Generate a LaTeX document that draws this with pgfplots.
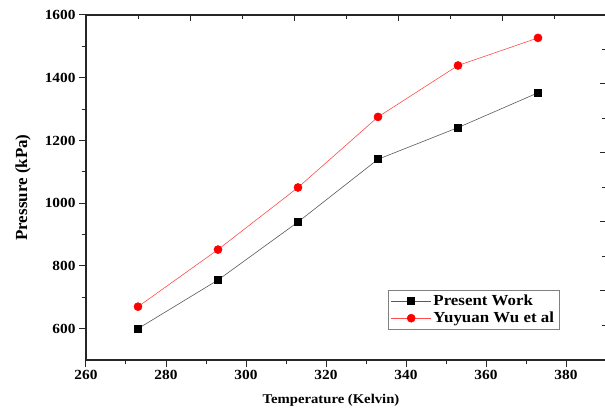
\documentclass[border=0pt]{standalone}
\usepackage{fontspec}
\setmainfont{Liberation Serif}
\newfontfamily\wf[FakeStretch=1.1]{Liberation Serif}
\newcommand\tfont{\wf\bfseries\fontsize{14}{16}\selectfont}
\usepackage{pgfplots}
\pgfplotsset{compat=1.18}
\begin{document}
\begin{tikzpicture}
\begin{axis}[
  scale only axis, width=520bp, height=345bp,
  xmin=260, xmax=390, ymin=500, ymax=1600,
  axis x line*=bottom, axis y line*=left,
  axis line style={-, line width=1.1bp, black!85},
  xtick={260,280,300,320,340,360,380}, ytick={600,800,1000,1200,1400,1600},
  xticklabels={\hbox{\tfont 260},\hbox{\tfont 280},\hbox{\tfont 300},\hbox{\tfont 320},\hbox{\tfont 340},\hbox{\tfont 360},\hbox{\tfont 380}},
  yticklabels={\hbox{\tfont 600},\hbox{\tfont 800},\hbox{\tfont 1000},\hbox{\tfont 1200},\hbox{\tfont 1400},\hbox{\tfont 1600}},
  minor x tick num=1, minor y tick num=1,
  tick align=outside,
  major tick length=7bp, minor tick length=4bp,
  tick style={line width=1bp, black!85},
  tick label style={font=\tfont},
  xlabel={Temperature (Kelvin)}, ylabel={Pressure (kPa)},
  xlabel style={font=\wf\bfseries\fontsize{13.4}{15}\selectfont, at={([xshift=-15bp,yshift=-40bp]rel axis cs:0.5,0)}, anchor=center},
  ylabel style={font=\bfseries\fontsize{17}{19}\selectfont, at={([xshift=-63bp]rel axis cs:0,0.5)}, anchor=center},
  legend style={at={(0.91,0.09)}, anchor=south east, draw=black!50, font=\wf\bfseries\fontsize{15.4}{16}\selectfont, inner xsep=3bp, inner ysep=2.5bp, row sep=1bp},
  legend cell align=left,
  legend image code/.code={\draw[mark repeat=2,mark phase=2] plot coordinates {(0bp,0bp) (20bp,0bp) (40bp,0bp)};},
  clip=false,
]
\addplot[black!65, line width=0.6bp, mark=square*, mark size=3.5bp, mark options={black, solid, draw=black, fill=black}]
  coordinates {(273,600) (293,755) (313,940) (333,1140) (353,1241) (373,1352)};
\addlegendentry{Present Work}
\addplot[red!70, line width=0.6bp, mark=*, mark size=4bp, mark options={red, solid, draw=red, fill=red}]
  coordinates {(273,670) (293,852) (313,1050) (333,1275) (353,1439) (373,1527)};
\addlegendentry{Yuyuan Wu et al}
\coordinate (SW) at (rel axis cs:0,0);
\coordinate (NE) at (rel axis cs:1,1);
\end{axis}
\begin{axis}[
  scale only axis, width=520bp, height=345bp,
  xmin=0, xmax=10, ymin=0, ymax=10,
  axis x line=top, axis y line=right,
  x axis line style={-, line width=1.1bp, black!85},
  y axis line style={draw=none},
  xtick={2,4,6,8}, minor xtick={1,3,5,7,9},
  ytick={2,4,6,8}, minor ytick={1,3,5,7,9},
  xticklabels={}, yticklabels={},
  tick align=inside, major tick length=6.5bp, minor tick length=4bp,
  tick style={line width=1bp, black!85},
]
\end{axis}
\pgfresetboundingbox
\path ([shift={(-86bp,-55bp)}]SW) rectangle ([shift={(-1bp,15bp)}]NE);
\end{tikzpicture}
\end{document}
